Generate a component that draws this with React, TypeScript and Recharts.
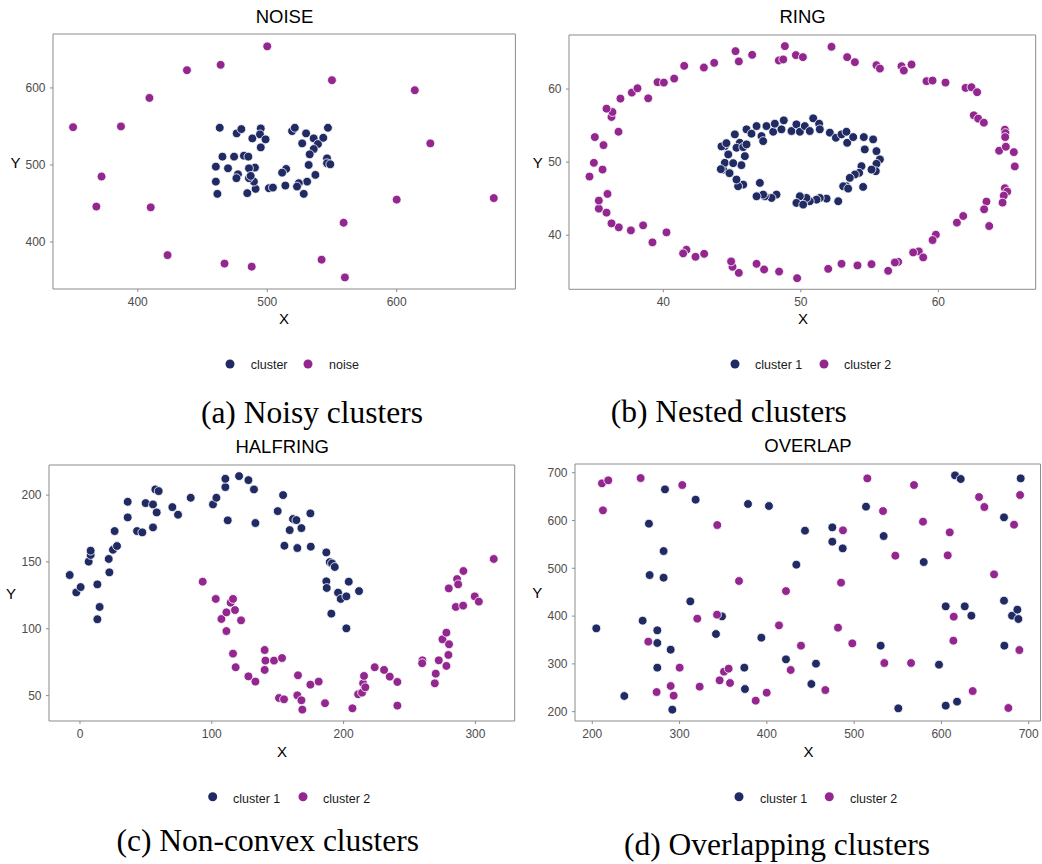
import React from 'react';
import { ScatterChart, Scatter, XAxis, YAxis, ReferenceArea } from 'recharts';

// ---------- DATA ----------
// NOISE panel
const noiseCluster: [number, number][] = [
  [463.3, 548.3], [476.4, 541], [480, 546.6], [488.5, 534.5], [495, 547.4], [494.4, 539.7],
  [498.7, 533.2], [495, 522.8], [519.2, 544], [521.3, 548.3], [530, 541], [527, 528],
  [535.9, 534.5], [539.2, 527.2], [543.3, 535.3], [546.9, 548.3], [535.9, 520.7], [532.8, 513.8],
  [546.2, 508.6], [546.2, 502.2], [548.7, 500.9], [532, 500], [537.2, 487.1], [530.8, 478.4],
  [528.2, 462.5], [524.4, 476.3], [523, 472], [514.6, 494.8], [511.5, 490], [514, 473.3],
  [501.3, 469.8], [504.4, 470.7], [491, 469], [489.7, 478.4], [485.9, 482.8], [484.6, 463.4],
  [490.5, 496.6], [485.9, 495.7], [487.2, 485.8], [477.4, 487.9], [476.2, 482.8], [465.4, 510.8],
  [474.4, 510.8], [482, 512], [485.4, 510.8], [469.7, 495.7], [460.3, 497.8], [460.3, 478.4],
  [461.5, 462.5],
];
const noiseNoise: [number, number][] = [
  [350, 549], [387, 550], [409, 587], [438, 623], [464, 630], [500, 654], [550, 610],
  [614, 597], [626, 528], [372, 485], [368, 446], [410, 445], [423, 383], [467, 372],
  [488, 368], [542, 377], [560, 354], [559, 425], [600, 455], [675, 457],
];

// RING panel
const ringInner: [number, number][] = [
  [45.2, 53.8], [45.56, 52.65], [46.05, 54.49], [46.41, 53.89], [46.78, 54.94], [47.14, 53.57],
  [47.26, 52.88], [47.5, 54.94], [47.99, 54.16], [48.11, 55.26], [48.59, 54.49], [48.76, 55.72],
  [49.32, 54.26], [49.68, 55.17], [49.93, 54.16], [50.29, 54.94], [50.65, 54.26], [50.9, 56.0],
  [51.33, 55.26], [51.38, 54.49], [52.11, 54.03], [52.55, 53.34], [52.96, 53.8], [53.32, 54.16],
  [53.37, 52.65], [53.81, 53.43], [54.58, 53.43], [54.65, 51.74], [55.26, 53.11], [55.5, 51.51],
  [55.75, 50.37], [55.5, 49.77], [55.45, 48.76], [55.14, 48.99], [54.41, 49.45], [54.24, 48.54],
  [53.93, 48.31], [53.56, 47.85], [53.32, 46.7], [53.08, 46.7], [53.44, 46.38], [54.53, 46.61],
  [52.72, 44.65], [51.87, 45.01], [51.38, 45.1], [51.14, 44.87], [50.65, 44.65], [50.41, 45.1],
  [49.93, 45.33], [49.68, 44.42], [50.17, 44.19], [48.23, 45.56], [47.87, 45.1], [47.38, 45.33],
  [47.02, 47.16], [47.26, 45.56], [46.78, 45.33], [45.81, 46.93], [45.44, 46.7], [45.32, 47.62],
  [44.84, 48.54], [44.35, 48.99], [44.47, 49.91], [44.72, 51.05], [44.47, 52.2], [45.32, 51.97],
  [45.81, 52.06], [45.93, 50.82], [45.68, 49.59], [46.05, 52.43], [44.18, 49.04], [44.81, 48.49],
  [44.23, 52.15], [44.59, 52.6], [45.08, 49.86],
];
const ringOuter: [number, number][] = [
  [45.25, 65.19], [45.49, 63.78], [46.46, 64.69], [48.4, 63.91], [48.72, 64.05], [48.84, 65.88],
  [49.64, 64.65], [50.15, 64.37], [52.23, 65.79], [53.37, 64.37], [53.93, 63.68], [55.5, 63.27],
  [55.75, 62.81], [57.32, 63.13], [57.49, 62.54], [58.05, 63.36], [59.14, 61.08], [59.58, 61.17],
  [60.52, 60.89], [61.98, 60.16], [62.41, 60.25], [62.82, 59.57], [62.58, 56.41], [62.9, 55.95],
  [63.31, 55.4], [64.84, 54.44], [64.88, 53.98], [64.86, 53.43], [64.42, 51.56], [64.91, 52.11],
  [65.49, 51.37], [65.56, 49.41], [64.84, 46.43], [65.01, 45.97], [64.76, 45.42], [64.67, 44.46],
  [63.5, 44.6], [63.33, 43.55], [63.7, 41.26], [61.81, 42.63], [61.35, 41.72], [59.82, 40.07],
  [59.58, 39.34], [58.58, 37.78], [58.17, 37.64], [58.9, 36.96], [57.08, 36.36], [56.84, 36.27],
  [56.35, 35.13], [55.14, 36.04], [54.12, 35.86], [52.96, 36.09], [51.99, 35.4], [49.73, 34.12],
  [48.42, 35.03], [47.33, 35.31], [46.78, 36.09], [45.49, 34.85], [45.03, 35.68], [44.93, 36.41],
  [42.97, 37.46], [42.34, 37.05], [41.68, 38.01], [41.44, 37.51], [40.23, 40.39], [39.21, 39.02],
  [38.53, 41.35], [37.64, 40.66], [36.76, 41.08], [36.23, 41.62], [35.87, 43.09], [35.31, 43.64],
  [35.31, 44.74], [35.94, 45.65], [35.58, 48.99], [34.95, 49.91], [34.63, 48.03], [35.02, 53.43],
  [35.65, 52.33], [36.74, 54.16], [36.23, 56.18], [36.3, 56.86], [35.87, 57.32], [36.88, 58.7],
  [37.71, 59.52], [38.12, 60.11], [38.9, 58.74], [39.58, 60.94], [40.04, 60.89], [40.79, 61.44],
  [41.52, 63.18], [42.95, 62.95], [43.7, 63.59],
];

// HALFRING panel
const halfCluster1: [number, number][] = [
  [-7.8, 140.2], [-2.8, 127.2], [0.5, 131.2], [6.6, 150.2], [8.1, 155.2], [8.1, 158.4],
  [13.2, 133.2], [14.9, 116.3], [13.2, 107.1], [21.8, 152.2], [22.3, 142.2], [25, 159.1],
  [26.3, 173.1], [28.1, 161.9], [36.2, 183.3], [36.2, 195], [43.3, 173.1], [47.3, 172.1],
  [49.8, 194], [55.4, 193], [55.4, 175.8], [57.2, 204.2], [59.7, 203], [58.2, 187],
  [70.1, 191], [74.4, 185.3], [84, 198], [100.9, 193], [103.5, 198], [110.3, 206],
  [110.3, 212.2], [112.1, 181.1], [120.7, 214.2], [127.8, 211.2], [132, 204.2], [133.1, 179.1],
  [150, 188], [154.1, 200], [155.1, 162.1], [159.1, 173.8], [161.6, 182.1], [164.2, 181.3],
  [164.9, 160.4], [168, 175.3], [174.8, 186.3], [175.1, 161.4], [186.9, 157.1], [186.9, 135.5],
  [187.2, 130.5], [189.5, 149.9], [191.2, 148.9], [193.3, 146.2], [190.7, 111.3], [195.8, 127],
  [197.8, 122.3], [202.1, 124.2], [202.1, 100.3], [203.9, 135.2], [211.7, 128.2],
];
const halfCluster2: [number, number][] = [
  [93.1, 135.2], [103, 122.3], [107.3, 107.3], [111.1, 98.3], [111.1, 112.3], [114.3, 119.5],
  [116.1, 122.3], [117.6, 114], [122.2, 106.3], [116.1, 81.4], [118.1, 71.2], [127.8, 64.4],
  [133.1, 60.5], [140.1, 84.1], [140.7, 76.2], [140.1, 69.2], [147.2, 76.2], [153.3, 78.1],
  [151, 48.2], [154.8, 47.2], [165.4, 65.2], [164.9, 50.2], [168, 46.5], [168.7, 39.5],
  [174.8, 58.2], [181.1, 60.5], [185.9, 44.3], [206.7, 40.5], [211, 51], [214.8, 59.2],
  [214, 52.2], [215.5, 64.7], [216.5, 56.2], [223.6, 71.2], [230.7, 69.2], [235, 64.2],
  [240.8, 60.2], [240.8, 42.5], [259.8, 76.4], [259.6, 74.2], [269.2, 59.2], [269.9, 66.4],
  [272.2, 76.4], [275, 92.1], [278, 97.1], [278, 72.2], [279.5, 80.4], [279.8, 130.2],
  [280, 88.4], [286.1, 137.2], [286.9, 133.2], [285.1, 116.3], [290.7, 117.3], [290.9, 143.2],
  [299.5, 124.2], [302.6, 120.3], [313.9, 152.2],
];

// OVERLAP panel
const overlapCluster1: [number, number][] = [
  [204.6, 374.3], [236.7, 232.8], [257.7, 390.4], [264.9, 593.3], [265.7, 485.9], [274.5, 370.2],
  [274.5, 343.7], [274.5, 292.1], [281.7, 480.3], [281.7, 536.1], [283.3, 665.1], [289.8, 329.7],
  [291.7, 204.2], [312.3, 430.8], [318.4, 643.5], [341.7, 362.5], [348.6, 399.4], [374.9, 247.4],
  [374.2, 292.1], [378.4, 634.5], [393.7, 354.8], [402.4, 630.3], [421.9, 309.5], [433.8, 507.5],
  [443.7, 578.7], [451, 257.9], [456.3, 300.4], [475, 585.6], [475, 555.6], [486.9, 541.7],
  [513.6, 628.9], [530.4, 338.1], [533.8, 567.5], [550.6, 207], [579.7, 513.1], [597.2, 298.3],
  [604.9, 420.4], [615.6, 694.4], [622.1, 686.8], [617.9, 221], [604.9, 212.6], [626.7, 420.4],
  [634.3, 400.8], [671.7, 606.6], [671.7, 432.2], [672.1, 338.1], [680.9, 400.8], [687, 413.4],
  [688.2, 393.9], [690.8, 688.1],
];
const overlapCluster2: [number, number][] = [
  [211.1, 677.7], [218.3, 684], [212.2, 621.2], [255.4, 688.8], [303.1, 674.2], [264.2, 346.5],
  [273.7, 241.1], [289.8, 253.7], [293.2, 233.5], [300.1, 292.1], [320.3, 394.6], [323, 252.3],
  [342.9, 402.9], [343.2, 590.5], [345.9, 265.6], [350.9, 283.7], [356.2, 290], [357.8, 260],
  [368.1, 473.4], [387.2, 223], [399.8, 239.7], [413.9, 380.6], [421.9, 452.4], [427.3, 287.2],
  [439.1, 338.1], [467, 245.3], [481.5, 375.7], [485, 469.9], [487.2, 579.4], [497.9, 342.9],
  [515.1, 688.1], [533.1, 619.8], [534.6, 301.8], [547.2, 526.4], [565.2, 301.8], [568.6, 674.2],
  [578.9, 597.5], [607.2, 527.1], [609.5, 575.2], [613.7, 348.5], [614.1, 398.7], [635.8, 243.2],
  [643.1, 649.1], [649.2, 628.2], [660.3, 487.3], [676.7, 207.7], [683.2, 591.2], [690.1, 653.3],
  [689.3, 329],
];

// Tick labels
const noiseXTicks = [400, 500, 600];
const noiseYTicks = [400, 500, 600];
const ringXTicks = [40, 50, 60];
const ringYTicks = [40, 50, 60];
const halfXTicks = [0, 100, 200, 300];
const halfYTicks = [50, 100, 150, 200];
const overlapXTicks = [200, 300, 400, 500, 600, 700];
const overlapYTicks = [200, 300, 400, 500, 600, 700];

// Text
const panelTitles = ['NOISE', 'RING', 'HALFRING', 'OVERLAP'];
const legendNoise = ['cluster', 'noise'];
const legendClusters = ['cluster 1', 'cluster 2'];
const captions = ['(a) Noisy clusters', '(b) Nested clusters', '(c) Non-convex clusters', '(d) Overlapping clusters'];

// ---------- STYLE ----------
const NAVY = '#202A63';
const PURPLE = '#93278F';
const BORDER = '#8c8c8c';
const SANS = '"Liberation Sans", Arial, Helvetica, sans-serif';
const SERIF = '"Liberation Serif", "Times New Roman", serif';

const toObj = (arr: [number, number][]) => arr.map(([x, y]) => ({ x, y }));

type Rect = { left: number; top: number; right: number; bottom: number };

const makeDot = (color: string) => (props: any) => {
  const { cx, cy } = props;
  if (cx == null || cy == null) return <g />;
  return <circle cx={cx} cy={cy} r={4.4} fill={color} stroke="#ffffff" strokeWidth={0.8} />;
};

function Panel({ rect, xDomain, yDomain, xTicks, yTicks, s1, s2 }: {
  rect: Rect; xDomain: [number, number]; yDomain: [number, number];
  xTicks: number[]; yTicks: number[]; s1: [number, number][]; s2: [number, number][];
}) {
  const padL = 50, padT = 10, padR = 6, padB = 35;
  const w = rect.right - rect.left + padL + padR;
  const h = rect.bottom - rect.top + padT + padB;
  const tickStyle = { fill: '#4d4d4d', fontSize: 12, fontFamily: SANS };
  return (
    <div style={{ position: 'absolute', left: rect.left - padL, top: rect.top - padT, width: w, height: h }}>
      <ScatterChart width={w} height={h} margin={{ top: padT, right: padR, left: 0, bottom: 0 }}>
        <XAxis type="number" dataKey="x" domain={xDomain} ticks={xTicks} allowDataOverflow interval={0}
          height={padB} tickSize={3} tickMargin={5} axisLine={false}
          tickLine={{ stroke: BORDER }} tick={tickStyle} />
        <YAxis type="number" dataKey="y" domain={yDomain} ticks={yTicks} allowDataOverflow interval={0}
          width={padL} tickSize={3} tickMargin={4.5} axisLine={false}
          tickLine={{ stroke: BORDER }} tick={tickStyle} />
        <Scatter data={toObj(s1)} fill={NAVY} shape={makeDot(NAVY)} isAnimationActive={false} />
        <Scatter data={toObj(s2)} fill={PURPLE} shape={makeDot(PURPLE)} isAnimationActive={false} />
        <ReferenceArea x1={xDomain[0]} x2={xDomain[1]} y1={yDomain[0]} y2={yDomain[1]}
          ifOverflow="visible" fill="none" fillOpacity={0} stroke={BORDER} strokeWidth={1} />
      </ScatterChart>
    </div>
  );
}

const rects: Rect[] = [
  { left: 53.3, top: 34.3, right: 515.7, bottom: 289.3 },
  { left: 569, top: 35, right: 1035.7, bottom: 289.3 },
  { left: 49.3, top: 465, right: 515, bottom: 721 },
  { left: 575, top: 464, right: 1040.5, bottom: 721 },
];

function LegendItems({ labels, circles, texts, cy, base }: {
  labels: string[]; circles: number[]; texts: number[]; cy: number; base: number;
}) {
  const colors = [NAVY, PURPLE];
  return (
    <g>
      {labels.map((l, i) => (
        <g key={l}>
          <circle cx={circles[i]} cy={cy} r={4.5} fill={colors[i]} />
          <text x={texts[i]} y={base} fontSize={12.5} fontFamily={SANS} fill="#1a1a1a">{l}</text>
        </g>
      ))}
    </g>
  );
}

export default function App() {
  return (
    <div style={{ position: 'absolute', left: 0, top: 0, width: 1042, height: 864, background: '#ffffff', overflow: 'hidden' }}>
      <Panel rect={rects[0]} xDomain={[334.5, 691.7]} yDomain={[339, 670]} xTicks={noiseXTicks} yTicks={noiseYTicks}
        s1={noiseCluster} s2={noiseNoise} />
      <Panel rect={rects[1]} xDomain={[33.14, 67.08]} yDomain={[32.6, 67.4]} xTicks={ringXTicks} yTicks={ringYTicks}
        s1={ringInner} s2={ringOuter} />
      <Panel rect={rects[2]} xDomain={[-23.5, 329.8]} yDomain={[31, 222.5]} xTicks={halfXTicks} yTicks={halfYTicks}
        s1={halfCluster1} s2={halfCluster2} />
      <Panel rect={rects[3]} xDomain={[180.2, 713.5]} yDomain={[180.5, 718.2]} xTicks={overlapXTicks} yTicks={overlapYTicks}
        s1={overlapCluster1} s2={overlapCluster2} />
      <svg width={1042} height={864} style={{ position: 'absolute', left: 0, top: 0, pointerEvents: 'none' }}>
        {/* titles */}
        <text x={284.5} y={22.7} textAnchor="middle" fontSize={18.5} fontFamily={SANS} fill="#000">{panelTitles[0]}</text>
        <text x={802.5} y={23} textAnchor="middle" fontSize={18.5} fontFamily={SANS} fill="#000">{panelTitles[1]}</text>
        <text x={282.2} y={452.5} textAnchor="middle" fontSize={18.5} fontFamily={SANS} fill="#000">{panelTitles[2]}</text>
        <text x={808} y={452} textAnchor="middle" fontSize={18.5} fontFamily={SANS} fill="#000">{panelTitles[3]}</text>
        {/* axis titles */}
        <text x={284} y={324} textAnchor="middle" fontSize={15} fontFamily={SANS} fill="#000">X</text>
        <text x={803} y={324} textAnchor="middle" fontSize={15} fontFamily={SANS} fill="#000">X</text>
        <text x={282} y={756.7} textAnchor="middle" fontSize={15} fontFamily={SANS} fill="#000">X</text>
        <text x={808.5} y={756.7} textAnchor="middle" fontSize={15} fontFamily={SANS} fill="#000">X</text>
        <text x={15.5} y={167.8} textAnchor="middle" fontSize={15} fontFamily={SANS} fill="#000">Y</text>
        <text x={537.7} y={168.3} textAnchor="middle" fontSize={15} fontFamily={SANS} fill="#000">Y</text>
        <text x={11} y={599} textAnchor="middle" fontSize={15} fontFamily={SANS} fill="#000">Y</text>
        <text x={537.2} y={598.3} textAnchor="middle" fontSize={15} fontFamily={SANS} fill="#000">Y</text>
        {/* legends */}
        <LegendItems labels={legendNoise} circles={[230, 308]} texts={[250.7, 329]} cy={364} base={369} />
        <LegendItems labels={legendClusters} circles={[735, 824]} texts={[755, 844]} cy={364} base={369.3} />
        <LegendItems labels={legendClusters} circles={[212.7, 303]} texts={[233, 323]} cy={796.7} base={802.7} />
        <LegendItems labels={legendClusters} circles={[739, 829.3]} texts={[760, 850]} cy={796.7} base={802.7} />
        {/* captions */}
        <text x={312} y={422.5} textAnchor="middle" fontSize={31.5} fontFamily={SERIF} fill="#000">{captions[0]}</text>
        <text x={728.8} y={422} textAnchor="middle" fontSize={31.5} fontFamily={SERIF} fill="#000">{captions[1]}</text>
        <text x={267.8} y={851} textAnchor="middle" fontSize={31.5} fontFamily={SERIF} fill="#000">{captions[2]}</text>
        <text x={777} y={855} textAnchor="middle" fontSize={31.5} fontFamily={SERIF} fill="#000">{captions[3]}</text>
      </svg>
    </div>
  );
}
